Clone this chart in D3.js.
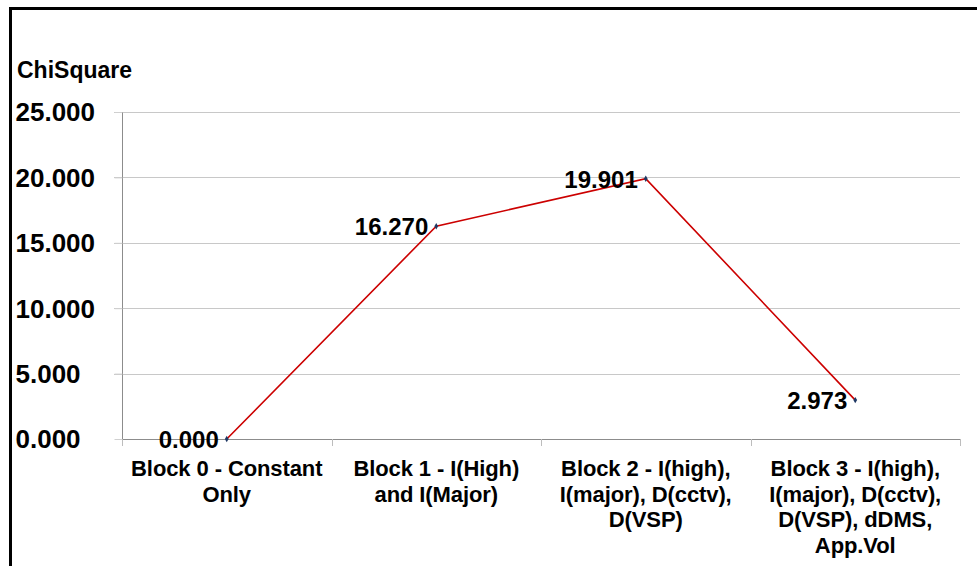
<!DOCTYPE html>
<html><head><meta charset="utf-8">
<script src="https://cdn.jsdelivr.net/npm/d3@7"></script>
<style>body{margin:0;background:#fff}svg{display:block}text{font-family:"Liberation Sans",Arial,sans-serif;font-weight:bold;fill:#000}</style>
</head><body>
<script>
const categories = [
  ["Block 0 - Constant", "Only"],
  ["Block 1 - I(High)", "and I(Major)"],
  ["Block 2 - I(high),", "I(major), D(cctv),", "D(VSP)"],
  ["Block 3 - I(high),", "I(major), D(cctv),", "D(VSP), dDMS,", "App.Vol"]
];
const values = [0.000, 16.270, 19.901, 2.973];
const yTicks = [0, 5, 10, 15, 20, 25];
const yLabel = "ChiSquare";

(function(){
const W = 977, H = 566;
const svg = d3.select("body").append("svg").attr("width", W).attr("height", H);

// outer frame
svg.append("path").attr("d", `M10.5,${H} V8.5 H${W}`).attr("fill","none").attr("stroke","#000").attr("stroke-width",3);

const pL = 122, pR = 960, pT = 112, pB = 439;
const x = d3.scaleBand().domain(d3.range(categories.length)).range([pL, pR]);
const y = d3.scaleLinear().domain([0, 25]).range([pB, pT]);

// gridlines
svg.append("g").selectAll("line").data(yTicks.filter(d => d > 0)).join("line")
  .attr("x1", pL - 8).attr("x2", pR)
  .attr("y1", d => Math.round(y(d)) + 0.5).attr("y2", d => Math.round(y(d)) + 0.5)
  .attr("stroke", "#c8c8c8").attr("stroke-width", 1);

// y axis
const yAxis = d3.axisLeft(y).tickValues(yTicks).tickSize(8).tickPadding(18).tickFormat(d3.format(".3f"));
const gy = svg.append("g").attr("transform", `translate(${pL + 0.5},0)`).call(yAxis);
gy.select(".domain").attr("stroke", "#8c8c8c").attr("d", `M0,${pT}V${pB}`);
gy.selectAll(".tick line").attr("stroke", "#d0d0d0");
gy.selectAll(".tick text").attr("x", -(pL - 15)).attr("text-anchor", "start").attr("dy", "0.34em")
  .style("font-size", "26px").style("font-family", '"Liberation Sans",Arial,sans-serif').style("font-weight","bold").attr("fill","#000");

// x axis
const xAxis = d3.axisBottom(x).tickSize(0).tickFormat("");
const gx = svg.append("g").attr("transform", `translate(0,${pB + 0.5})`).call(xAxis);
gx.select(".domain").attr("stroke", "#8c8c8c").attr("d", `M${pL},0H${pR}`);
// category separators
svg.append("g").selectAll("line").data(d3.range(categories.length + 1)).join("line")
  .attr("x1", i => Math.round(pL + i * x.bandwidth()) + 0.5)
  .attr("x2", i => Math.round(pL + i * x.bandwidth()) + 0.5)
  .attr("y1", pB).attr("y2", pB + 7)
  .attr("stroke", "#bdbdbd");

// category labels
const cl = svg.append("g").selectAll("text").data(categories).join("text")
  .attr("x", (d, i) => x(i) + x.bandwidth() / 2)
  .attr("y", pB + 37)
  .attr("text-anchor", "middle")
  .style("font-size", "22px").style("letter-spacing", "-0.1px");
cl.selectAll("tspan").data(d => d).join("tspan")
  .attr("x", function() { return this.parentNode.getAttribute("x"); })
  .attr("dy", (d, i) => i === 0 ? 0 : 25.5)
  .text(d => d);

// y label
svg.append("text").attr("x", 17).attr("y", 78).style("font-size", "23px").text(yLabel);

// line
const cx = i => x(i) + x.bandwidth() / 2;
svg.append("path").datum(values)
  .attr("d", d3.line().x((d, i) => cx(i)).y(d => y(d)))
  .attr("fill", "none").attr("stroke", "#cc0000").attr("stroke-width", 1.6);

// markers
svg.append("g").selectAll("path").data(values).join("path")
  .attr("transform", (d, i) => `translate(${cx(i)},${y(d)})`)
  .attr("d", d3.symbol(d3.symbolDiamond, 12))
  .attr("fill", "#1f3864");

// data labels
svg.append("g").selectAll("text").data(values).join("text")
  .attr("x", (d, i) => cx(i) - 8)
  .attr("y", d => y(d) + 9)
  .attr("text-anchor", "end")
  .style("font-size", "24px")
  .text(d => d3.format(".3f")(d));
})();
</script>
</body></html>
